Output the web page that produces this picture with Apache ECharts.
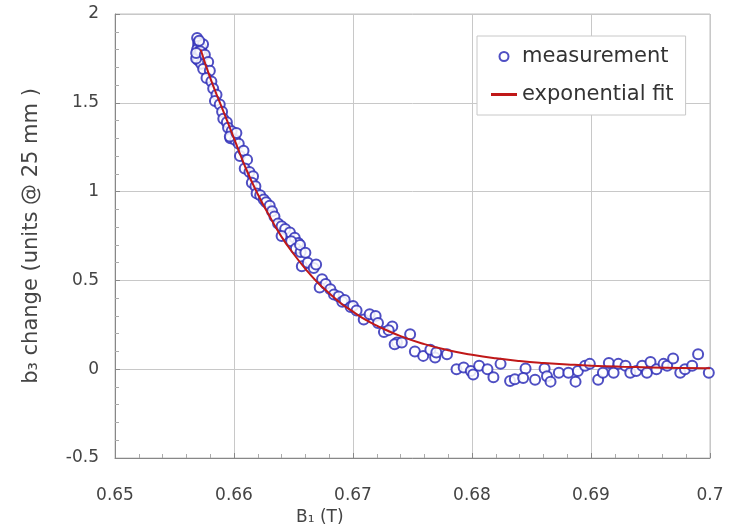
<!DOCTYPE html>
<html><head><meta charset="utf-8">
<script src="https://cdn.jsdelivr.net/npm/echarts@6/dist/echarts.min.js"></script>
<style>html,body{margin:0;padding:0;background:#fff}#c{width:744px;height:528px}</style>
</head><body><div id="c"></div>
<script>
// Measurement points (B1 in T, b3 change in units)
var measX = [0.65690,0.65699,0.65699,0.65690,0.65707,0.65690,0.65716,0.65699,0.65724,0.65732,0.65724,0.65682,0.65740,0.65707,0.65716,0.65682,
0.65755,0.65783,0.65741,0.65797,0.65769,0.6581,0.65825,0.65853,0.6584,0.6588,0.6590,0.6591,0.6594,0.6595,0.6598,0.6597,0.6601,0.6604,
0.65965,0.6602,0.6605,0.6608,0.6611,0.6609,0.6613,0.6616,0.6615,0.6618,0.6619,0.6622,0.6625,0.6627,0.6630,0.6632,0.6634,0.6637,0.6640,0.6643,0.6647,0.6651,0.6654,0.6640,
0.6648,0.6652,0.6656,
0.66555,0.6660,0.6657,0.6662,0.6667,0.6669,0.6674,0.6672,0.6677,0.6681,0.6684,0.6688,0.6691,0.6693,0.6698,0.6700,0.6703,0.6709,0.6714,0.6719,0.6721,0.6733,
0.6726,0.6730,0.6737,0.6735,
0.6741,0.6748,0.6752,0.6759,0.6765,0.6769,0.6770,0.6779,0.6787,0.6793,0.6799,0.6801,0.6806,0.6813,0.6818,0.6824,0.6832,
0.6836,0.6845,0.6843,0.6853,0.6861,0.6863,0.6866,0.6873,0.6881,0.6887,0.6889,0.6895,0.6899,0.6906,0.6910,0.6915,0.6919,0.6923,0.6929,0.6933,0.6938,0.6943,0.6947,0.6950,0.6955,0.6961,0.6964,0.6969,0.6975,0.6979,0.6985,0.6990,0.6999];
var measY = [1.865,1.84,1.82,1.80,1.78,1.76,1.745,1.74,1.81,1.77,1.72,1.75,1.83,1.85,1.79,1.78,
1.77,1.73,1.69,1.68,1.64,1.62,1.58,1.545,1.51,1.49,1.45,1.41,1.39,1.36,1.34,1.30,1.29,1.27,
1.31,1.33,1.20,1.23,1.18,1.13,1.11,1.086,1.05,1.03,0.99,0.98,0.955,0.94,0.92,0.89,0.86,0.82,0.805,0.79,0.77,0.74,0.71,0.75,
0.72,0.68,0.66,
0.70,0.656,0.58,0.60,0.57,0.59,0.506,0.46,0.48,0.45,0.42,0.41,0.38,0.39,0.35,0.356,0.33,0.28,0.31,0.30,0.26,0.24,
0.21,0.22,0.15,0.14,
0.15,0.197,0.10,0.075,0.11,0.066,0.094,0.084,0.0,0.01,-0.01,-0.03,0.02,0.0,-0.045,0.03,-0.066,
-0.056,0.004,-0.05,-0.06,0.004,-0.04,-0.07,-0.02,-0.02,-0.07,-0.01,0.02,0.03,-0.06,-0.02,0.035,-0.02,0.03,0.02,-0.02,-0.01,0.02,-0.02,0.04,0.0,0.03,0.02,0.06,-0.02,0.0,0.02,0.084,-0.02];
// Exponential fit curve
var fitX = [0.6572,0.6580,0.6590,0.6600,0.6610,0.6620,0.6630,0.6640,0.6650,0.6660,0.6670,0.6680,0.6690,0.6700,0.6710,0.6720,0.6740,0.6760,0.6780,0.6800,0.6820,0.6840,0.6860,0.6880,0.6900,0.6925,0.6950,0.6975,0.7000];
var fitY = [1.80,1.64,1.47,1.30,1.13,0.985,0.86,0.745,0.65,0.565,0.49,0.428,0.37,0.324,0.28,0.245,0.186,0.141,0.107,0.081,0.061,0.046,0.035,0.027,0.020,0.014,0.010,0.007,0.005];
var xTicks = [0.65,0.66,0.67,0.68,0.69,0.7];
var yTicks = [-0.5,0,0.5,1,1.5,2];

var meas = measX.map(function(x,i){return [x,measY[i]];});
var fit = fitX.map(function(x,i){return [x,fitY[i]];});
var FONT = 'DejaVu Sans';
var chart = echarts.init(document.getElementById('c'));
chart.setOption({
  animation:false,
  backgroundColor:'#fff',
  grid:{left:115,right:34,top:14,bottom:70,show:true,borderColor:'#c0c0c0',borderWidth:1},
  xAxis:{type:'value',min:xTicks[0],max:xTicks[xTicks.length-1],interval:0.01,
    axisLine:{onZero:false,lineStyle:{color:'#888'}},
    axisTick:{inside:true,length:5,lineStyle:{color:'#888'}},
    minorTick:{show:true,splitNumber:5,length:4,lineStyle:{color:'#aaa'}},
    splitLine:{show:true,lineStyle:{color:'#c8c8c8'}},
    axisLabel:{color:'#444',fontSize:17,fontFamily:FONT,margin:29,formatter:function(v){return String(+v.toFixed(2));}}},
  yAxis:{type:'value',min:yTicks[0],max:yTicks[yTicks.length-1],interval:0.5,
    name:'b\u2083 change (units @ 25 mm )',nameLocation:'middle',nameGap:73,
    nameTextStyle:{color:'#444',fontSize:21,fontFamily:FONT},
    axisLine:{show:true,onZero:false,lineStyle:{color:'#888'}},
    axisTick:{show:true,inside:true,length:5,lineStyle:{color:'#888'}},
    minorTick:{show:true,splitNumber:5,length:4,lineStyle:{color:'#aaa'}},
    splitLine:{show:true,lineStyle:{color:'#c8c8c8'}},
    axisLabel:{color:'#444',fontSize:17,fontFamily:FONT,margin:16}},
  legend:{orient:'vertical',left:477,top:36,padding:[10,12,10,14],itemGap:17,
    backgroundColor:'#fff',borderColor:'#c8c8c8',borderWidth:1,itemWidth:26,itemHeight:9,
    textStyle:{color:'#333',fontSize:21,fontFamily:FONT},
    data:[{name:'measurement',icon:'emptyCircle'},{name:'exponential fit',icon:'path://M0,0 H26 V3 H0 Z'}]},
  graphic:[{type:'text',left:296,top:509,style:{text:'B\u2081 (T)',fill:'#444',font:'17px "DejaVu Sans"'}}],
  series:[
    {name:'measurement',type:'scatter',data:meas,symbol:'emptyCircle',symbolSize:10,
     itemStyle:{color:'#3030b8',borderColor:'#3030b8',borderWidth:1,opacity:0.85},z:2},
    {name:'exponential fit',type:'line',data:fit,smooth:true,showSymbol:false,symbol:'none',
     lineStyle:{color:'#c01818',width:2},itemStyle:{color:'#c01818'},z:3}
  ]
});
</script></body></html>
